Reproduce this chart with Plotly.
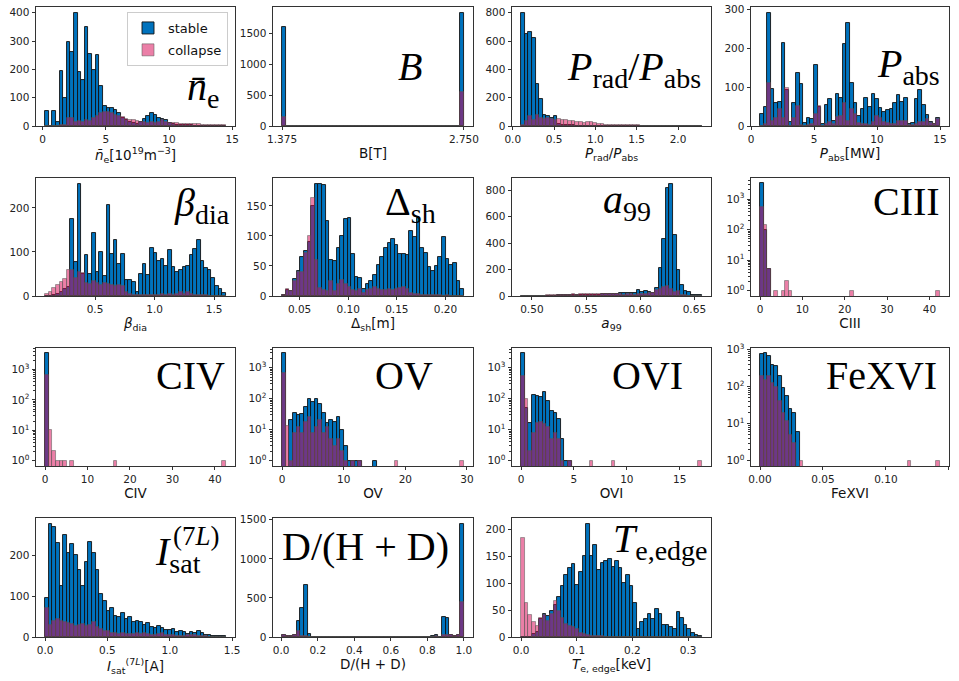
import numpy as np
import plotly.graph_objects as go

# ---------------- data (histogram counts, 50 bins per panel) ----------------
ne_range = [0.2, 14.5]
ne_stable = [52,0,52,15,195,100,295,262,400,190,163,350,255,196,250,140,70,65,62,55,45,30,22,15,10,8,15,25,35,45,40,28,25,20,12,8,5,4,3,2,2,1,1,1,0,0,0,0,0,0]
ne_collapse = [0,0,0,0,2,5,28,30,15,18,15,20,18,30,35,45,50,48,45,40,35,32,25,22,20,18,15,14,12,15,12,15,20,15,12,10,10,8,8,7,8,6,6,5,4,3,3,2,2,2]

B_range = [1.375, 2.75]
B_stable = [1600] + [0]*48 + [1840]
B_collapse = [145] + [0]*48 + [560]

prad_range = [0.10, 2.29]
prad_stable = [800,650,665,620,295,192,80,70,55,70,12,10,6,5,4,3,3,2,2,2,1,1,1,1,1,0,0,0,0,0,0,0,0,0,0,0,0,0,0,0,0,0,0,0,0,0,0,0,0,0]
prad_collapse = [5,35,70,45,75,60,50,55,50,45,48,45,42,38,32,28,25,22,30,25,20,15,12,10,10,10,8,10,6,5,5,4,4,3,3,3,2,2,2,1,1,1,1,1,1,1,1,0,0,1]

pabs_range = [0.7, 15.0]
pabs_stable = [32,50,292,95,60,62,213,92,10,58,137,107,8,20,18,158,48,5,55,70,12,82,72,212,265,112,60,25,45,73,48,83,70,47,35,42,45,58,80,62,73,5,8,70,92,55,28,10,5,20]
pabs_collapse = [0,5,112,12,20,45,20,97,0,20,52,3,0,3,5,30,52,0,5,10,5,22,25,60,12,45,30,8,5,5,3,10,25,20,10,8,5,5,12,12,12,2,2,5,10,10,18,8,5,18]

beta_range = [0.08, 1.60]
beta_stable = [0,0,2,5,10,15,20,175,78,255,50,92,50,143,55,100,45,207,95,127,72,95,37,37,32,10,50,72,48,110,98,80,85,67,104,65,55,60,65,67,94,106,128,80,63,60,40,22,15,7]
beta_collapse = [5,10,18,25,32,38,58,60,40,55,52,30,28,35,30,25,30,28,25,22,25,22,10,5,3,2,2,2,2,2,2,3,5,3,5,3,5,8,5,8,5,3,2,2,2,0,0,0,0,0]

dsh_range = [0.032, 0.219]
dsh_stable = [2,10,8,28,42,65,75,90,150,187,186,185,125,60,58,80,100,128,130,70,32,30,12,20,25,35,52,65,80,88,95,85,70,70,68,108,98,130,80,72,48,42,50,65,98,62,52,55,25,12]
dsh_collapse = [2,12,8,25,40,40,72,100,163,60,13,10,8,25,8,20,27,20,15,10,8,12,5,10,12,15,12,10,10,12,10,12,14,15,12,5,4,3,2,2,2,1,1,1,0,1,0,0,0,0]

a99_range = [0.49, 0.657]
a99_stable = [1,0,1,1,2,2,2,3,3,3,4,4,5,5,5,5,5,6,6,8,8,10,12,14,15,15,18,20,22,20,22,25,42,32,38,30,25,60,210,430,820,850,462,200,80,40,30,10,5,10]
a99_collapse = [1,0,1,2,2,3,3,4,5,5,8,10,8,10,12,10,12,14,15,12,15,18,15,12,14,15,12,12,10,12,15,10,12,15,15,20,25,45,55,65,75,55,30,35,10,5,3,2,1,0]

ciii_range = [0.0, 42.5]
ciii_stable = [3300,100,5] + [0]*47
ciii_collapse = [550,140,5,0,1,0,1,2,1,0,0,0,0,0,0,0,0,0,0,0,0,0,0,0,0,1,0,0,0,0,0,0,0,0,0,0,0,0,0,0,0,0,0,0,0,0,0,0,0,1]

civ_range = [0.0, 42.6]
civ_stable = [3400] + [0]*49
civ_collapse = [650,10,2,1,1,1,0,1,0,0,0,0,0,0,0,0,0,0,0,1,0,0,0,0,0,0,0,0,0,0,0,0,0,0,0,0,0,0,0,0,0,0,0,0,0,0,0,0,0,1]

ov_range = [0.0, 29.5]
ov_stable = [2900,0,20,35,30,32,55,100,80,100,65,35,17,20,18,25,10,3,1,1,1,1,0,0,0,1,0,0,0,0,0,0,0,0,0,0,0,0,0,0,0,0,0,0,0,0,0,0,0,0]
ov_collapse = [650,13,1,8,12,8,18,25,8,12,20,8,12,5,3,5,2,1,0,1,0,1,0,0,0,0,0,0,0,0,0,1,0,0,0,0,0,0,0,0,0,0,0,0,0,0,0,0,0,1]

ovi_range = [0.0, 17.1]
ovi_stable = [2900,50,17,130,125,110,170,85,40,35,22,5,1,1,0,0,0,0,0,0,0,0,0,0,0,0,0,0,0,0,0,0,0,0,0,0,0,0,0,0,0,0,0,0,0,0,0,0,0,0]
ovi_collapse = [550,95,2,8,17,18,15,12,5,8,5,1,0,1,0,0,0,0,0,1,0,0,0,0,0,1,0,0,0,0,0,0,0,0,0,0,0,0,0,0,0,0,0,0,0,0,0,0,0,1]

fe_range = [0.0, 0.143]
fe_stable = [750,800,700,380,360,190,95,55,25,20,6,0,0,0,0,0,0,0,0,0,0,0,0,0,0,0,0,0,0,0,0,0,0,0,0,0,0,0,0,0,0,0,0,0,0,0,0,0,0,0]
fe_collapse = [200,150,200,130,100,40,20,12,5,3,0,1,0,0,0,0,0,0,0,0,0,0,0,0,0,0,0,0,0,0,0,0,0,0,0,0,0,0,0,0,0,1,0,0,0,0,0,0,0,1]

isat_range = [0.0, 1.45]
isat_stable = [95,278,270,230,125,250,205,228,200,165,125,185,232,205,165,105,88,65,72,52,48,58,45,50,38,40,36,30,35,25,22,28,22,16,18,20,12,14,12,8,12,10,14,10,5,5,3,3,2,2]
isat_collapse = [70,30,40,45,40,38,35,32,28,30,32,28,30,38,25,20,15,15,10,10,8,10,8,7,8,10,8,10,8,6,5,8,10,6,5,4,3,3,3,4,6,4,3,2,2,1,1,1,0,0]

dhd_range = [0.005, 1.0]
dhd_stable = [20,15,15,20,200,370,660,35,5,2,2,2,1,2,1,1,1,1,1,1,1,1,1,1,1,1,1,1,1,1,1,1,1,1,1,1,1,1,1,2,5,10,20,5,255,240,25,15,20,1450]
dhd_collapse = [20,15,15,20,80,15,10,5,2,1,1,0,0,0,0,0,0,0,0,0,0,0,0,0,0,0,0,0,0,0,0,0,0,0,0,0,0,0,0,1,2,5,10,5,30,30,20,15,20,450]

te_range = [0.0, 0.325]
te_stable = [0,0,0,5,10,33,42,38,48,60,75,95,115,128,135,97,120,150,210,150,170,125,137,140,145,130,140,128,100,115,95,63,15,28,33,42,33,52,42,22,22,18,15,46,35,22,15,8,3,2]
te_collapse = [183,63,40,28,20,35,40,30,42,67,48,35,25,20,18,15,8,5,3,2,2,1,1,0,0,0,0,0,0,0,0,0,0,0,0,0,0,0,0,0,0,0,0,0,0,0,0,0,0,0]

# tick labels
ne_xticks = [0, 5, 10, 15];            ne_xlabels = ["0", "5", "10", "15"]
B_xticks = [1.375, 2.75];              B_xlabels = ["1.375", "2.750"]
prad_xticks = [0, 0.5, 1.0, 1.5, 2.0]; prad_xlabels = ["0.0", "0.5", "1.0", "1.5", "2.0"]
pabs_xticks = [0, 5, 10, 15];          pabs_xlabels = ["0", "5", "10", "15"]
beta_xticks = [0.5, 1.0, 1.5];         beta_xlabels = ["0.5", "1.0", "1.5"]
dsh_xticks = [0.05, 0.10, 0.15, 0.20]; dsh_xlabels = ["0.05", "0.10", "0.15", "0.20"]
a99_xticks = [0.50, 0.55, 0.60, 0.65]; a99_xlabels = ["0.50", "0.55", "0.60", "0.65"]
c_xticks = [0, 10, 20, 30, 40];        c_xlabels = ["0", "10", "20", "30", "40"]
ov_xticks = [0, 10, 20, 30];           ov_xlabels = ["0", "10", "20", "30"]
ovi_xticks = [0, 5, 10, 15];           ovi_xlabels = ["0", "5", "10", "15"]
fe_xticks = [0, 0.05, 0.10, 0.15];     fe_xlabels = ["0.00", "0.05", "0.10", "0.15"]
isat_xticks = [0, 0.5, 1.0, 1.5];      isat_xlabels = ["0.0", "0.5", "1.0", "1.5"]
dhd_xticks = [0, 0.2, 0.4, 0.6, 0.8, 1.0]; dhd_xlabels = ["0.0", "0.2", "0.4", "0.6", "0.8", "1.0"]
te_xticks = [0, 0.1, 0.2, 0.3];        te_xlabels = ["0.0", "0.1", "0.2", "0.3"]
log_yticks = [1, 10, 100, 1000];       log_ylabels = ["10<sup>0</sup>", "10<sup>1</sup>", "10<sup>2</sup>", "10<sup>3</sup>"]

# ---------------- panel definitions ----------------
panels = [
    dict(rng=ne_range, s=ne_stable, c=ne_collapse, log=False, xt=ne_xticks, xl=ne_xlabels, yt=[0,100,200,300,400],
         xtitle="<i>n̄</i><sub>e</sub>[10<sup>19</sup>m<sup>−3</sup>]", label="<i>n̄</i><sub>e</sub>", lx=0.93, ly=0.31),
    dict(rng=B_range, s=B_stable, c=B_collapse, log=False, xt=B_xticks, xl=B_xlabels, yt=[0,500,1000,1500],
         xtitle="B[T]", label="<i>B</i>", lx=0.755, ly=0.5),
    dict(rng=prad_range, s=prad_stable, c=prad_collapse, log=False, xt=prad_xticks, xl=prad_xlabels, yt=[0,200,400,600,800],
         xtitle="<i>P</i><sub>rad</sub>/<i>P</i><sub>abs</sub>", label="<i>P</i><sub>rad</sub>/<i>P</i><sub>abs</sub>", lx=0.96, ly=0.48),
    dict(rng=pabs_range, s=pabs_stable, c=pabs_collapse, log=False, xt=pabs_xticks, xl=pabs_xlabels, yt=[0,100,200,300],
         xtitle="<i>P</i><sub>abs</sub>[MW]", label="<i>P</i><sub>abs</sub>", lx=0.965, ly=0.5),
    dict(rng=beta_range, s=beta_stable, c=beta_collapse, log=False, xt=beta_xticks, xl=beta_xlabels, yt=[0,100,200],
         xtitle="<i>β</i><sub>dia</sub>", label="<i>β</i><sub>dia</sub>", lx=0.985, ly=0.77),
    dict(rng=dsh_range, s=dsh_stable, c=dsh_collapse, log=False, xt=dsh_xticks, xl=dsh_xlabels, yt=[0,50,100,150],
         xtitle="Δ<sub>sh</sub>[m]", label="Δ<sub>sh</sub>", lx=0.825, ly=0.78),
    dict(rng=a99_range, s=a99_stable, c=a99_collapse, log=False, xt=a99_xticks, xl=a99_xlabels, yt=[0,200,400,600,800],
         xtitle="<i>a</i><sub>99</sub>", label="<i>a</i><sub>99</sub>", lx=0.71, ly=0.8),
    dict(rng=ciii_range, s=ciii_stable, c=ciii_collapse, log=True, xt=c_xticks, xl=c_xlabels,
         xtitle="CIII", label="CIII", lx=0.965, ly=0.8),
    dict(rng=civ_range, s=civ_stable, c=civ_collapse, log=True, xt=c_xticks, xl=c_xlabels,
         xtitle="CIV", label="CIV", lx=0.96, ly=0.77),
    dict(rng=ov_range, s=ov_stable, c=ov_collapse, log=True, xt=ov_xticks, xl=ov_xlabels,
         xtitle="OV", label="OV", lx=0.81, ly=0.77),
    dict(rng=ovi_range, s=ovi_stable, c=ovi_collapse, log=True, xt=ovi_xticks, xl=ovi_xlabels,
         xtitle="OVI", label="OVI", lx=0.87, ly=0.77),
    dict(rng=fe_range, s=fe_stable, c=fe_collapse, log=True, xt=fe_xticks, xl=fe_xlabels,
         xtitle="FeXVI", label="FeXVI", lx=0.95, ly=0.77),
    dict(rng=isat_range, s=isat_stable, c=isat_collapse, log=False, xt=isat_xticks, xl=isat_xlabels, yt=[0,100,200],
         xtitle="<i>I</i><sub>sat</sub><sup>(7<i>L</i>)</sup>[A]", label="<i>I</i><sub>sat</sub>", lx=0.84, ly=0.70),
    dict(rng=dhd_range, s=dhd_stable, c=dhd_collapse, log=False, xt=dhd_xticks, xl=dhd_xlabels, yt=[0,500,1000,1500],
         xtitle="D/(H + D)", label="D/(H + D)", lx=0.89, ly=0.76),
    dict(rng=te_range, s=te_stable, c=te_collapse, log=False, xt=te_xticks, xl=te_xlabels, yt=[0,50,100,150,200],
         xtitle="<i>T</i><sub>e, edge</sub>[keV]", label="<i>T</i><sub>e,edge</sub>", lx=0.995, ly=0.81),
]

W, H = 959, 681
col_px = [(36, 235), (273, 473), (512, 711), (751, 949)]
row_px = [(7, 126), (178, 296), (348, 466), (518, 637)]

STABLE = "#0072BD"
STABLE_EDGE = "#111111"
COLLAPSE = "rgba(215,0,80,0.5)"
COLLAPSE_EDGE = "rgba(90,90,90,0.6)"
TICKFONT = dict(family="DejaVu Sans", size=10.5, color="#222")
TITLEFONT = dict(family="DejaVu Sans", size=13.5, color="#111")
LABELFONT = dict(family="Liberation Serif", size=40, color="black")

fig = go.Figure()
layout = dict(width=W, height=H, margin=dict(l=0, r=0, t=0, b=0),
              paper_bgcolor="white", plot_bgcolor="white", barmode="overlay",
              bargap=0, annotations=[])

for i, p in enumerate(panels):
    sfx = "" if i == 0 else str(i + 1)
    r, c = divmod(i, 4)
    lo, hi = p["rng"]
    n = len(p["s"])
    w = (hi - lo) / n
    centers = lo + w * (np.arange(n) + 0.5)
    s = list(p["s"])
    cc = list(p["c"])
    if p["log"]:
        s = [v if v > 0 else None for v in s]
        cc = [v if v > 0 else None for v in cc]
    fig.add_trace(go.Bar(x=centers, y=s, width=w, xaxis="x" + sfx, yaxis="y" + sfx,
                         marker=dict(color=STABLE, line=dict(color=STABLE_EDGE, width=0.9)),
                         name="stable", legendgroup="stable", showlegend=(i == 0)))
    fig.add_trace(go.Bar(x=centers, y=cc, width=w, xaxis="x" + sfx, yaxis="y" + sfx,
                         marker=dict(color=COLLAPSE, line=dict(color=COLLAPSE_EDGE, width=0.9)),
                         name="collapse", legendgroup="collapse", showlegend=(i == 0)))

    x0, x1 = col_px[c]
    y0, y1 = row_px[r]
    span = hi - lo
    xr = [lo - 0.05 * span, hi + 0.05 * span]
    common = dict(showline=True, mirror=True, linecolor="#333", linewidth=0.9,
                  ticks="outside", ticklen=3.5, tickwidth=0.9, tickcolor="#333",
                  showgrid=False, zeroline=False, tickfont=TICKFONT, automargin=False)
    layout["xaxis" + sfx] = dict(domain=[x0 / W, x1 / W], anchor="y" + sfx, range=xr,
                                 tickmode="array", tickvals=p["xt"], ticktext=p["xl"],
                                 title=dict(text=p["xtitle"], font=TITLEFONT, standoff=4), **common)
    if p["log"]:
        vals = [v for v in p["s"] + p["c"] if v > 0]
        lmin, lmax = np.log10(min(vals)), np.log10(max(vals))
        m = 0.05 * (lmax - lmin)
        minor_vals = [k * 10 ** e for e in range(0, 4) for k in range(2, 10)]
        layout["yaxis" + sfx] = dict(domain=[1 - y1 / H, 1 - y0 / H], anchor="x" + sfx, type="log",
                                     range=[lmin - m, lmax + m], tickmode="array",
                                     tickvals=log_yticks, ticktext=log_ylabels,
                                     minor=dict(tickmode="array", tickvals=minor_vals, ticks="outside",
                                                ticklen=2, tickwidth=0.7, tickcolor="#333"),
                                     **common)
    else:
        ymax = max(max(p["s"]), max(p["c"]))
        layout["yaxis" + sfx] = dict(domain=[1 - y1 / H, 1 - y0 / H], anchor="x" + sfx,
                                     range=[0, ymax * 1.05], tickmode="array", tickvals=p["yt"],
                                     ticktext=[str(v) for v in p["yt"]], **common)
    layout["annotations"].append(dict(text=p["label"], xref="x" + sfx + " domain", yref="y" + sfx + " domain",
                                      x=p["lx"], y=p["ly"], xanchor="right", yanchor="middle",
                                      showarrow=False, font=LABELFONT))

# superscript of the I_sat label
layout["annotations"].append(dict(text="(7<i>L</i>)", xref="x13 domain", yref="y13 domain",
                                  x=0.935, y=0.85, xanchor="right", yanchor="middle",
                                  showarrow=False, font=dict(family="Liberation Serif", size=27, color="black")))

layout["legend"] = dict(x=228 / W, y=1 - 12 / H, xanchor="right", yanchor="top",
                        bgcolor="white", bordercolor="#cccccc", borderwidth=1,
                        font=dict(family="DejaVu Sans", size=13, color="#111"),
                        tracegroupgap=2)

fig.update_layout(**layout)
fig.write_html("out.html")
